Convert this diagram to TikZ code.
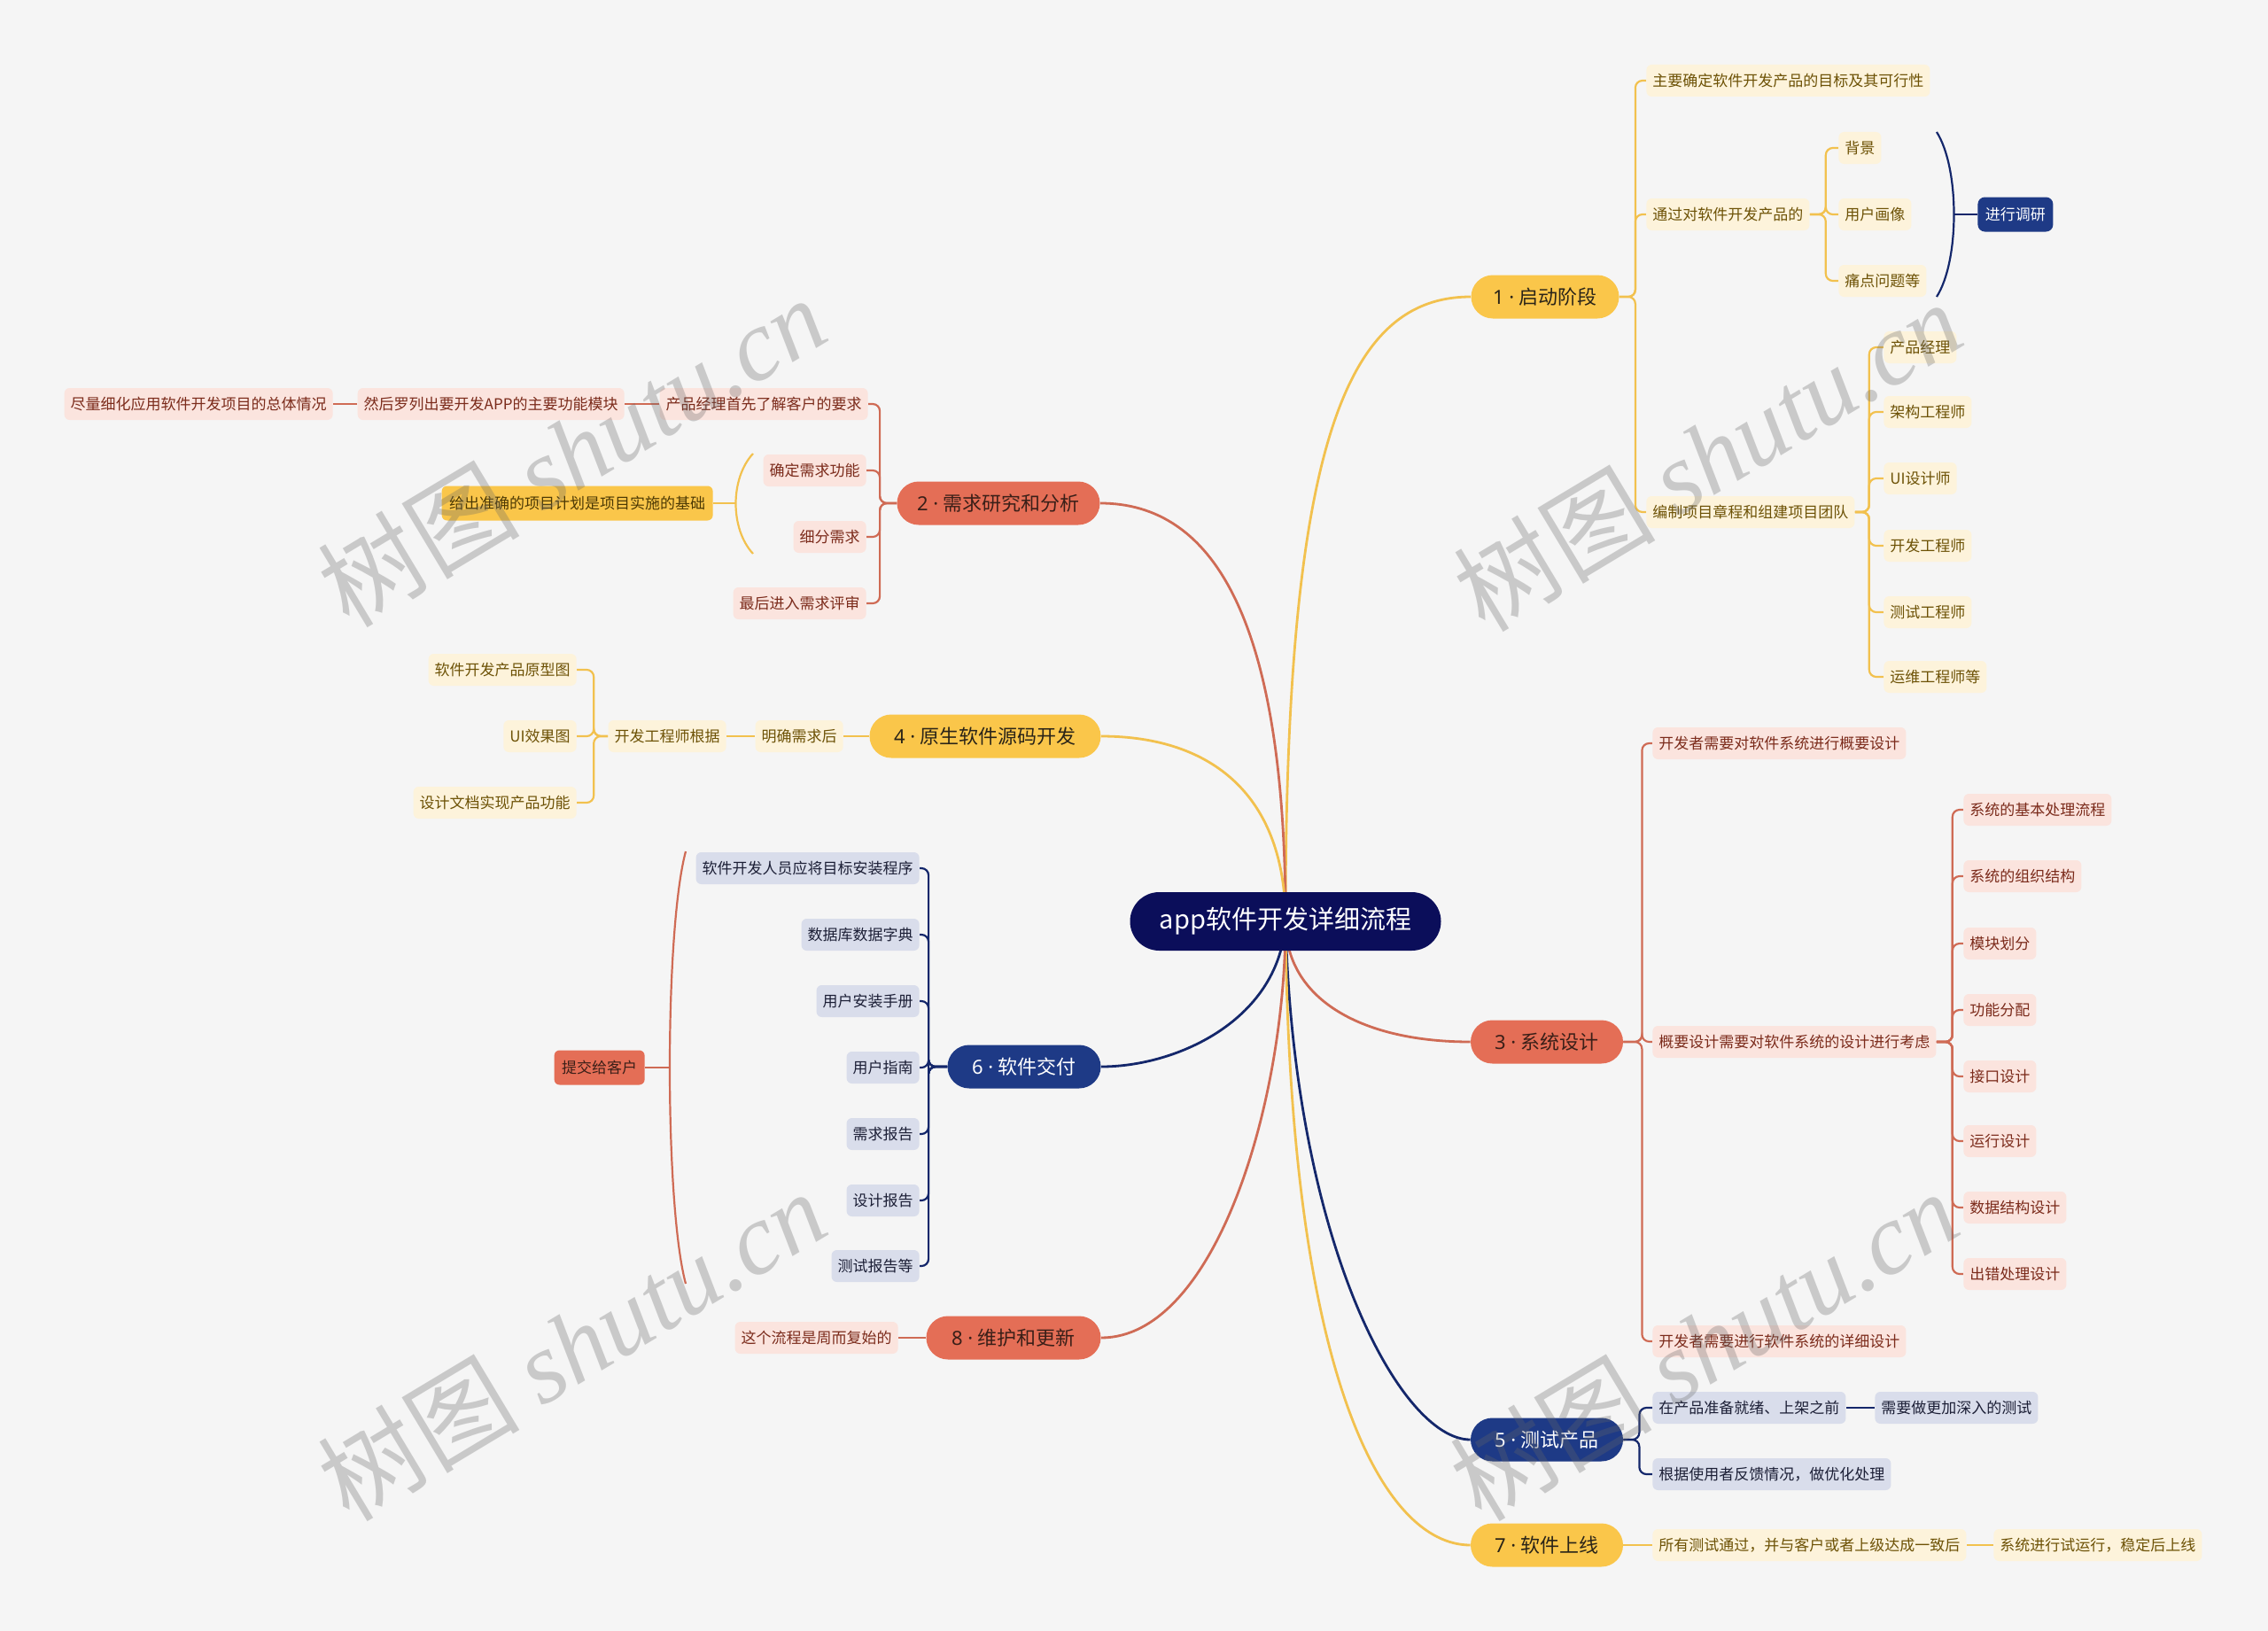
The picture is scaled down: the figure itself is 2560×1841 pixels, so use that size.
\documentclass[tikz,border=0pt]{standalone}
\usepackage{fontspec}
\setmainfont{Noto Sans CJK SC}
\newfontfamily\wmlatin{Liberation Serif}
\newfontfamily\latinf{Noto Sans}
\usetikzlibrary{calc}
\definecolor{bgc}{HTML}{F5F5F5}
\definecolor{rootC}{HTML}{0B0E5A}
\definecolor{yelLine}{HTML}{F2C14E}
\definecolor{yelFill}{HTML}{FAC64A}
\definecolor{yelChild}{HTML}{FDF3DB}
\definecolor{yelText}{HTML}{6D5206}
\definecolor{salLine}{HTML}{CF6B55}
\definecolor{salFill}{HTML}{E46E56}
\definecolor{salChild}{HTML}{FBE4DE}
\definecolor{salText}{HTML}{7B2B1B}
\definecolor{salDark}{HTML}{3A1F18}
\definecolor{navLine}{HTML}{14276B}
\definecolor{navFill}{HTML}{1E3A86}
\definecolor{navChild}{HTML}{D9DDEB}
\definecolor{navText}{HTML}{1C1F36}
\definecolor{mainDark}{HTML}{2A2418}
\pgfdeclarelayer{back}
\pgfdeclarelayer{bg}
\pgfsetlayers{back,bg,main}
\newcommand{\numdot}[1]{{\latinf #1 · }}
\tikzset{
  every node/.style={font=\fontsize{8.5}{10}\selectfont, inner ysep=0pt, inner xsep=3.5pt, minimum height=18pt, rounded corners=3pt},
  ychild/.style={fill=yelChild, text=yelText},
  schild/.style={fill=salChild, text=salText},
  nchild/.style={fill=navChild, text=navText},
  mainnode/.style={rounded corners=12.25pt, minimum height=24.5pt, font=\fontsize{11}{13}\selectfont, inner xsep=4pt},
  ymain/.style={mainnode, fill=yelFill, text=mainDark},
  smain/.style={mainnode, fill=salFill, text=salDark},
  nmain/.style={mainnode, fill=navFill, text=white},
  rootnode/.style={rounded corners=16.5pt, minimum height=33pt, minimum width=175.5pt, fill=rootC, text=white, font=\fontsize{14.5}{17}\selectfont},
  sumbox/.style={minimum height=19.5pt, inner xsep=4.25pt},
  ylink/.style={draw=yelLine, line width=1.1pt, rounded corners=4pt},
  slink/.style={draw=salLine, line width=1.1pt, rounded corners=4pt},
  nlink/.style={draw=navLine, line width=1.1pt, rounded corners=4pt},
  ymlink/.style={draw=yelLine, line width=1.4pt},
  smlink/.style={draw=salLine, line width=1.4pt},
  nmlink/.style={draw=navLine, line width=1.4pt},
  wmark/.style={rotate=31, text=black!60, opacity=0.3, font=\fontsize{57}{57}\selectfont, inner sep=0pt, minimum height=0pt, rounded corners=0pt}
}
\begin{document}
\begin{tikzpicture}[x=0.5pt,y=-0.5pt]
\useasboundingbox (0,0) rectangle (2560,1841);
\begin{pgfonlayer}{back}
\fill[bgc] (0,0) rectangle (2560,1841);
\end{pgfonlayer}

% root and main nodes
\node[rootnode] (root) at (1451,1040) {app软件开发详细流程};
\node[ymain, minimum width=83.5pt] (N1) at (1744,335) {\numdot{1}启动阶段};
\node[smain, minimum width=114.5pt] (N2) at (1127,568) {\numdot{2}需求研究和分析};
\node[smain, minimum width=86pt] (N3) at (1746,1176) {\numdot{3}系统设计};
\node[ymain, minimum width=130.5pt] (N4) at (1112,831) {\numdot{4}原生软件源码开发};
\node[nmain, minimum width=86pt] (N5) at (1746,1625) {\numdot{5}测试产品};
\node[nmain, minimum width=86.5pt] (N6) at (1156,1204) {\numdot{6}软件交付};
\node[ymain, minimum width=86pt] (N7) at (1746,1744) {\numdot{7}软件上线};
\node[smain, minimum width=98.5pt] (N8) at (1144,1510) {\numdot{8}维护和更新};

% branch 1
\node[ychild, anchor=west] (a1) at (1858,91) {主要确定软件开发产品的目标及其可行性};
\node[ychild, anchor=west] (a2) at (1858,242) {通过对软件开发产品的};
\node[ychild, anchor=west] (a21) at (2075,167) {背景};
\node[ychild, anchor=west] (a22) at (2075,242) {用户画像};
\node[ychild, anchor=west] (a23) at (2075,317) {痛点问题等};
\node[nmain, sumbox, rounded corners=4pt, font=\fontsize{8.5}{10}\selectfont, anchor=west] (jd) at (2232,242) {进行调研};
\node[ychild, anchor=west] (a3) at (1858,578) {编制项目章程和组建项目团队};
\node[ychild, anchor=west] (a31) at (2126,392) {产品经理};
\node[ychild, anchor=west] (a32) at (2126,465) {架构工程师};
\node[ychild, anchor=west] (a33) at (2126,540) {UI设计师};
\node[ychild, anchor=west] (a34) at (2126,616) {开发工程师};
\node[ychild, anchor=west] (a35) at (2126,691) {测试工程师};
\node[ychild, anchor=west] (a36) at (2126,764) {运维工程师等};
\coordinate (jb1) at (2186,149);
\coordinate (jb2) at (2186,335);
\coordinate (jbm) at (2206,242);

% branch 3
\node[schild, anchor=west] (b1) at (1865,839) {开发者需要对软件系统进行概要设计};
\node[schild, anchor=west] (b2) at (1865,1176) {概要设计需要对软件系统的设计进行考虑};
\node[schild, anchor=west] (b3) at (1865,1514) {开发者需要进行软件系统的详细设计};
\node[schild, anchor=west] (b21) at (2216,914) {系统的基本处理流程};
\node[schild, anchor=west] (b22) at (2216,989) {系统的组织结构};
\node[schild, anchor=west] (b23) at (2216,1065) {模块划分};
\node[schild, anchor=west] (b24) at (2216,1140) {功能分配};
\node[schild, anchor=west] (b25) at (2216,1215) {接口设计};
\node[schild, anchor=west] (b26) at (2216,1288) {运行设计};
\node[schild, anchor=west] (b27) at (2216,1363) {数据结构设计};
\node[schild, anchor=west] (b28) at (2216,1438) {出错处理设计};

% branch 5
\node[nchild, anchor=west] (c1) at (1865,1589) {在产品准备就绪、上架之前};
\node[nchild, anchor=west] (c1a) at (2116,1589) {需要做更加深入的测试};
\node[nchild, anchor=west] (c2) at (1865,1664) {根据使用者反馈情况，做优化处理};

% branch 7
\node[ychild, anchor=west] (d1) at (1865,1744) {所有测试通过，并与客户或者上级达成一致后};
\node[ychild, anchor=west] (d2) at (2250,1744) {系统进行试运行，稳定后上线};

% branch 2
\node[schild, anchor=east] (e1) at (980,456) {产品经理首先了解客户的要求};
\node[schild, anchor=east] (e1a) at (705,456) {然后罗列出要开发APP的主要功能模块};
\node[schild, anchor=east] (e1b) at (376,456) {尽量细化应用软件开发项目的总体情况};
\node[schild, anchor=east] (e2) at (978,531) {确定需求功能};
\node[schild, anchor=east] (e3) at (978,606) {细分需求};
\node[schild, anchor=east] (e4) at (978,681) {最后进入需求评审};
\node[sumbox, fill=yelFill, text=yelText!70!black, anchor=east, minimum width=152pt] (sum1) at (805,568) {给出准确的项目计划是项目实施的基础};
\coordinate (sb1) at (850,512);
\coordinate (sb2) at (850,625);
\coordinate (sbm) at (831,568);

% branch 4
\node[ychild, anchor=east] (f1) at (952,831) {明确需求后};
\node[ychild, anchor=east] (f2) at (820,831) {开发工程师根据};
\node[ychild, anchor=east] (f21) at (651,756) {软件开发产品原型图};
\node[ychild, anchor=east] (f22) at (651,831) {UI效果图};
\node[ychild, anchor=east] (f23) at (651,906) {设计文档实现产品功能};

% branch 6
\node[nchild, anchor=east] (g1) at (1038,980) {软件开发人员应将目标安装程序};
\node[nchild, anchor=east] (g2) at (1038,1055) {数据库数据字典};
\node[nchild, anchor=east] (g3) at (1038,1130) {用户安装手册};
\node[nchild, anchor=east] (g4) at (1038,1205) {用户指南};
\node[nchild, anchor=east] (g5) at (1038,1280) {需求报告};
\node[nchild, anchor=east] (g6) at (1038,1355) {设计报告};
\node[nchild, anchor=east] (g7) at (1038,1429) {测试报告等};
\node[sumbox, fill=salFill, text=salDark, anchor=east] (tj) at (728,1205) {提交给客户};
\coordinate (gb1) at (774,961);
\coordinate (gb2) at (774,1449);
\coordinate (gbm) at (756,1205);

% branch 8
\node[schild, anchor=east] (h1) at (1014,1510) {这个流程是周而复始的};

\begin{pgfonlayer}{bg}
% main connectors
\draw[ymlink] (root.center) .. controls (1451,500) and (1520,335) .. (N1.west);
\draw[smlink] (root.center) .. controls (1451,1130) and (1540,1176) .. (N3.west);
\draw[nmlink] (root.center) .. controls (1460,1400) and (1580,1625) .. (N5.west);
\draw[ymlink] (root.center) .. controls (1455,1550) and (1560,1744) .. (N7.west);
\draw[smlink] (N2.east) .. controls (1370,568) and (1451,700) .. (root.center);
\draw[ymlink] (N4.east) .. controls (1370,831) and (1451,900) .. (root.center);
\draw[nmlink] (N6.east) .. controls (1330,1204) and (1445,1150) .. (root.center);
\draw[smlink] (N8.east) .. controls (1370,1510) and (1451,1250) .. (root.center);

% branch 1 links
\foreach \c in {a1,a2,a3} \draw[ylink] (N1.east) -- ++(18,0) |- (\c.west);
\foreach \c in {a21,a22,a23} \draw[ylink] (a2.east) -- ++(18,0) |- (\c.west);
\foreach \c in {a31,a32,a33,a34,a35,a36} \draw[ylink] (a3.east) -- ++(16,0) |- (\c.west);
\draw[navLine, line width=1.1pt] (jb1) .. controls (2212,190) and (2212,294) .. (jb2);
\draw[navLine, line width=1.1pt] (jbm) -- (jd.west);

% branch 3 links
\foreach \c in {b1,b2,b3} \draw[slink] (N3.east) -- ++(21,0) |- (\c.west);
\foreach \c in {b21,b22,b23,b24,b25,b26,b27,b28} \draw[slink] (b2.east) -- ++(18,0) |- (\c.west);

% branch 5 links
\foreach \c in {c1,c2} \draw[nlink] (N5.east) -- ++(18,0) |- (\c.west);
\draw[nlink] (c1.east) -- (c1a.west);

% branch 7 links
\draw[ylink] (N7.east) -- (d1.west);
\draw[ylink] (d1.east) -- (d2.west);

% branch 2 links
\foreach \c in {e1,e2,e3,e4} \draw[slink] (N2.west) -- ++(-19,0) |- (\c.east);
\draw[slink] (e1.west) -- (e1a.east);
\draw[slink] (e1a.west) -- (e1b.east);
\draw[yelLine, line width=1.1pt] (sb1) .. controls (824,540) and (824,597) .. (sb2);
\draw[yelLine, line width=1.1pt] (sbm) -- (sum1.east);

% branch 4 links
\draw[ylink] (N4.west) -- (f1.east);
\draw[ylink] (f1.west) -- (f2.east);
\foreach \c in {f21,f22,f23} \draw[ylink] (f2.west) -- ++(-16,0) |- (\c.east);

% branch 6 links
\foreach \c in {g1,g2,g3,g4,g5,g6,g7} \draw[nlink] (N6.west) -- ++(-21,0) |- (\c.east);
\draw[salLine, line width=1.1pt] (gb1) .. controls (750,1050) and (750,1360) .. (gb2);
\draw[salLine, line width=1.1pt] (gbm) -- (tj.east);

% branch 8 links
\draw[slink] (N8.west) -- (h1.east);
\end{pgfonlayer}

% watermarks
\node[wmark] (w1) at (645,509) {树图 {\wmlatin\itshape shutu.cn}};
\node[wmark] (w2) at (1927,514) {树图 {\wmlatin\itshape shutu.cn}};
\node[wmark] (w3) at (645,1518) {树图 {\wmlatin\itshape shutu.cn}};
\node[wmark] (w4) at (1923,1518) {树图 {\wmlatin\itshape shutu.cn}};
\end{tikzpicture}
\end{document}
